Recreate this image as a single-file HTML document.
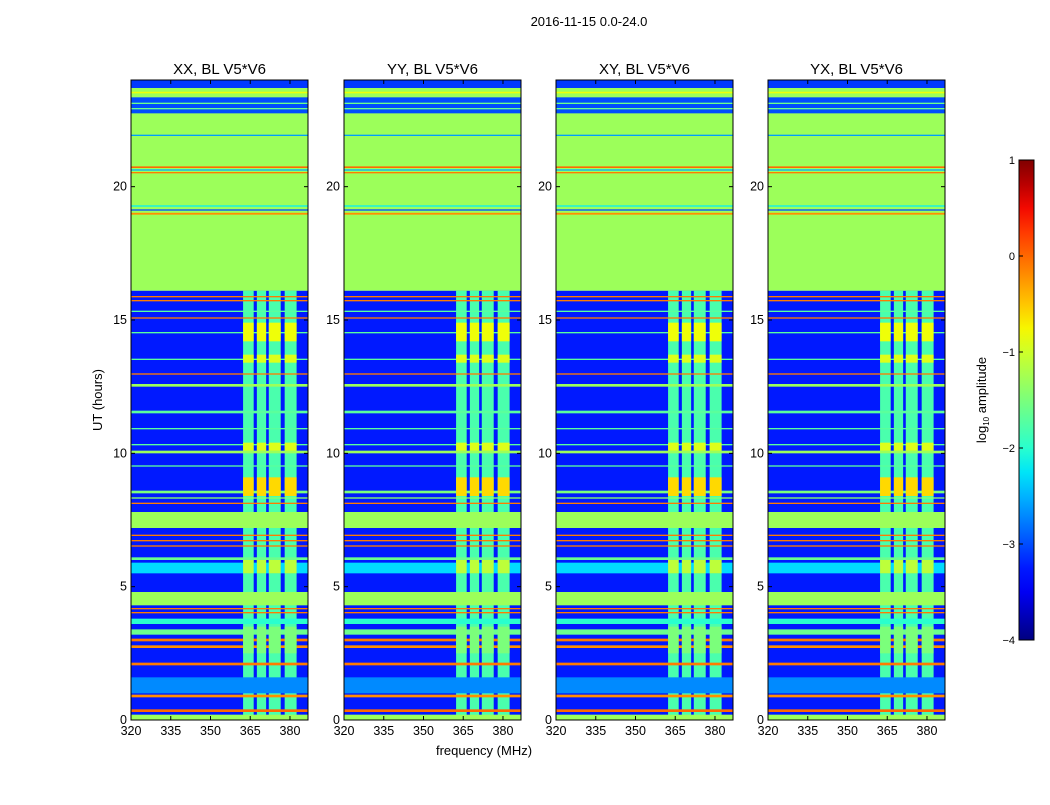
<!DOCTYPE html>
<html><head><meta charset="utf-8"><style>
body{margin:0;background:#fff;font-family:"Liberation Sans",sans-serif}
svg text{font-family:"Liberation Sans",sans-serif}
</style></head><body>
<svg id="fig" width="1050" height="800" xmlns="http://www.w3.org/2000/svg">
<rect width="1050" height="800" fill="#fff"/>
<text x="589" y="26" font-size="13" text-anchor="middle">2016-11-15 0.0-24.0</text>
<text x="484" y="755" font-size="13" text-anchor="middle">frequency (MHz)</text>
<text x="102" y="400" font-size="13" text-anchor="middle" transform="rotate(-90 102 400)">UT (hours)</text>
<g id="panels"></g>
<g id="cbar"></g>
</svg>
<script>
const panelTitles = ["XX, BL V5*V6","YY, BL V5*V6","XY, BL V5*V6","YX, BL V5*V6"];
const xTicks = [320,335,350,365,380];
const yTicks = [0,5,10,15,20];
const cbTicks = [1,0,-1,-2,-3,-4];
const bgValue = -3.25;
// row bands: [t0, t1, log10 amplitude]
const rowBands = [
 [0,0.2,-1.3],[0.3,0.4,0],[0.85,0.95,-0.2],[1.0,1.6,-2.7],[2.05,2.15,-0.1],
 [2.7,2.8,-0.2],[2.95,3.05,-0.1],[3.2,3.4,-1.6],[3.6,3.8,-2.0],
 [4.0,4.05,-0.1],[4.15,4.2,-0.1],[4.3,4.8,-1.3],[5.5,5.9,-2.3],[6.0,6.1,-1.6],
 [6.5,6.55,-0.1],[6.7,6.75,-0.1],[6.9,6.95,-0.1],[7.2,7.8,-1.3],
 [8.1,8.15,-0.1],[8.3,8.35,-1.4],[8.5,8.6,-1.5],[9.5,9.55,-1.7],[10.0,10.1,-1.3],
 [10.3,10.35,-1.7],[10.9,10.95,-1.7],[11.5,11.6,-1.7],[12.5,12.6,-1.3],[12.95,13.0,-0.1],
 [13.5,13.55,-1.7],[14.5,14.55,-1.7],[15.05,15.1,-0.1],[15.3,15.35,-1.7],[15.7,15.75,-0.1],[15.85,15.9,-0.1],
 [16.1,24,-1.3],[18.95,19.02,-0.2],[19.1,19.15,-3.0],[19.25,19.3,-2.2],
 [20.5,20.55,-0.1],[20.6,20.65,-2.5],[20.7,20.76,0],[21.9,21.95,-2.6],
 [22.75,23.35,-3.0],[22.9,22.95,-1.6],[23.1,23.15,-1.6],[23.5,23.56,-0.8],[23.7,24,-3.1]
];
// RFI frequency columns [f0,f1] MHz
const rfiCols = [[362.3,366.3],[367.5,371],[372,376.5],[378,382.5]];
const rfiBase = -1.8;
// RFI bright time segments [t0,t1,value]
const rfiRows = [[2.5,3.5,-1.5],[5.5,6.0,-1.1],[8.4,9.1,-0.6],[10.1,10.4,-0.9],[13.4,13.7,-0.9],[14.2,14.9,-0.8]];
const panelX = [131,344,556,768];

const PW=177, PT=80, PB=720, FMIN=320, FMAX=386.8, TMAX=24;
function jet(v){
  let t=Math.max(0,Math.min(1,(v+4)/5));
  function seg(p){for(let i=1;i<p.length;i++){if(t<=p[i][0]){const a=p[i-1],b=p[i];return a[1]+(b[1]-a[1])*(t-a[0])/(b[0]-a[0]);}}return p[p.length-1][1];}
  const r=seg([[0,0],[0.35,0],[0.66,1],[0.89,1],[1,0.5]]);
  const g=seg([[0,0],[0.125,0],[0.375,1],[0.64,1],[0.91,0],[1,0]]);
  const b=seg([[0,0.5],[0.11,1],[0.34,1],[0.65,0],[1,0]]);
  return `rgb(${Math.round(r*255)},${Math.round(g*255)},${Math.round(b*255)})`;
}
const NS="http://www.w3.org/2000/svg";
function mk(tag,attrs,parent){const e=document.createElementNS(NS,tag);for(const k in attrs)e.setAttribute(k,attrs[k]);parent.appendChild(e);return e;}
const yS=t=>PB-(t/TMAX)*(PB-PT);
const panels=document.getElementById('panels');
panelTitles.forEach((title,pi)=>{
  const x0=panelX[pi];
  const xS=f=>x0+(f-FMIN)/(FMAX-FMIN)*PW;
  const g=mk('g',{},panels);
  
  
  const bg=mk('rect',{x:x0,y:yS(16.1),width:PW,height:yS(0)-yS(16.1),fill:jet(bgValue)},g);
  
  
  rfiCols.forEach(c=>{
    const r=mk('rect',{x:xS(c[0]),y:yS(16.1),width:Math.min(xS(c[1]),x0+PW)-xS(c[0]),height:yS(0)-yS(16.1),fill:jet(rfiBase)},g);
    
    
  });
  rowBands.forEach(b=>{
    const r=mk('rect',{x:x0,y:yS(b[1]),width:PW,height:Math.max(1,yS(b[0])-yS(b[1])),fill:jet(b[2])},g);
    
    
  });
  rfiRows.forEach(b=>rfiCols.forEach(c=>{
    const r=mk('rect',{x:xS(c[0]),y:yS(b[1]),width:Math.min(xS(c[1]),x0+PW)-xS(c[0]),height:yS(b[0])-yS(b[1]),fill:jet(b[2])},g);
    
    
  }));
  const fr=mk('rect',{x:x0,y:PT,width:PW,height:PB-PT,fill:'none',stroke:'#000','stroke-width':1},g);
  
  
  const tt=mk('text',{x:x0+PW/2,y:74,'font-size':15,'text-anchor':'middle'},g);
  tt.textContent=title;
  
  
  xTicks.forEach(v=>{
    const x=xS(v);
    mk('line',{x1:x,x2:x,y1:PB,y2:PB-4,stroke:'#000'},g);
    mk('line',{x1:x,x2:x,y1:PT,y2:PT+4,stroke:'#000'},g);
    const l=mk('text',{x:x,y:PB+15,'font-size':12.5,'text-anchor':'middle'},g);
    l.textContent=v;
    
    
  });
  yTicks.forEach(v=>{
    const y=yS(v);
    mk('line',{x1:x0,x2:x0+4,y1:y,y2:y,stroke:'#000'},g);
    mk('line',{x1:x0+PW,x2:x0+PW-4,y1:y,y2:y,stroke:'#000'},g);
    const l=mk('text',{x:x0-4,y:y+4,'font-size':12.5,'text-anchor':'end'},g);
    l.textContent=v;
    
    
  });
});
// colorbar
const cb=document.getElementById('cbar');
const CX=1019,CW=15,CT=160,CB=640;
const defs=mk('defs',{},cb);
const lg=mk('linearGradient',{id:'jetg',x1:0,y1:1,x2:0,y2:0},defs);
for(let i=0;i<=20;i++){mk('stop',{offset:i/20,'stop-color':jet(-4+5*i/20)},lg);}
mk('rect',{x:CX,y:CT,width:CW,height:CB-CT,fill:'url(#jetg)',stroke:'#000'},cb);
cbTicks.forEach(v=>{
  const y=CB-(v+4)/5*(CB-CT);
  mk('line',{x1:CX,x2:CX+4,y1:y,y2:y,stroke:'#000'},cb);
  const l=mk('text',{x:CX-4,y:y+4,'font-size':11,'text-anchor':'end'},cb);
  l.textContent=v===0?'0':(v<0?'\u2212'+(-v):v);
  
  
});
const cl=mk('text',{x:986,y:400,'font-size':13,'text-anchor':'middle',transform:'rotate(-90 986 400)'},cb);
cl.innerHTML='log<tspan font-size="8" dy="3">10</tspan><tspan dy="-3"> amplitude</tspan>';


</script>
</body></html>
